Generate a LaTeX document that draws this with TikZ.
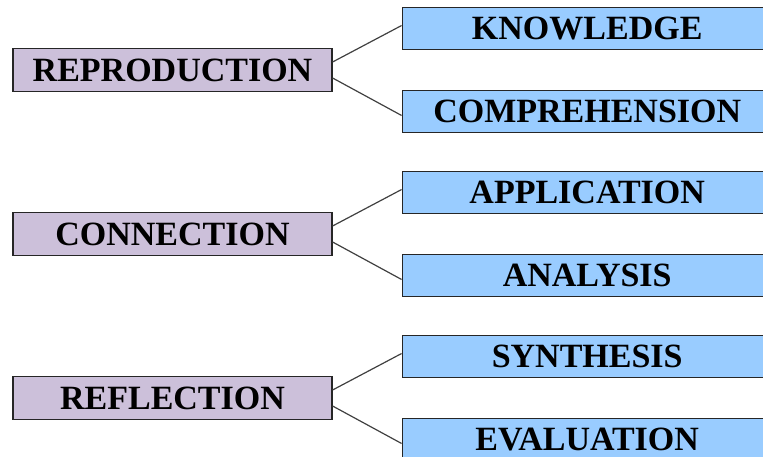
\documentclass[tikz,border=0pt]{standalone}
\usepackage{fontspec}
\setmainfont{Liberation Serif}
\usepackage{xcolor}
\usetikzlibrary{positioning}

\definecolor{lavbox}{RGB}{204,192,218}
\definecolor{bluebox}{RGB}{153,204,255}

\begin{document}
\begin{tikzpicture}[
	  x=1pt, y=-1pt,
	  %style for the connecting lines
	  lnk/.style={draw=black!75, line width=1.2pt},
      % style for the left boxes
      lb/.style={rectangle, fill=lavbox, draw=black!85, line width=1.2pt,
                 minimum width=319pt, minimum height=43pt, inner sep=0pt,
                 font=\fontsize{34}{40}\selectfont\bfseries},
      % style for the right boxes
      rb/.style={rectangle, fill=bluebox, draw=black!85, line width=1.2pt,
                 minimum width=370pt, minimum height=42pt, inner sep=0pt,
                 font=\fontsize{34}{40}\selectfont\bfseries},
      node distance=164pt]

      \useasboundingbox (0,0) rectangle (763,457);
      \clip (0,0) rectangle (763,457);

      %nodes
      \node[lb] (repro) at (172.5,70) {REPRODUCTION};
      \node[lb,below of=repro](conn){CONNECTION};
      \node[lb,below of=conn](refl){REFLECTION};

      \node[rb,right=69pt of repro,yshift=41.5pt](know){KNOWLEDGE};
      \node[rb,right=69pt of repro,yshift=-41.5pt](comp){COMPREHENSION};
      \node[rb,right=69pt of conn,yshift=41.5pt](appl){APPLICATION};
      \node[rb,right=69pt of conn,yshift=-41.5pt](anal){ANALYSIS};
      \node[rb,right=69pt of refl,yshift=41.5pt](synth){SYNTHESIS};
      \node[rb,right=69pt of refl,yshift=-41.5pt](eval){EVALUATION};

      %edges
      \draw[lnk]([yshift=8pt]repro.east) -- ([yshift=3pt]know.west);
      \draw[lnk]([yshift=-8pt]repro.east) -- ([yshift=-4pt]comp.west);
      \draw[lnk]([yshift=8pt]conn.east) -- ([yshift=3pt]appl.west);
      \draw[lnk]([yshift=-8pt]conn.east) -- ([yshift=-4pt]anal.west);
      \draw[lnk]([yshift=8pt]refl.east) -- ([yshift=3pt]synth.west);
      \draw[lnk]([yshift=-8pt]refl.east) -- ([yshift=-4pt]eval.west);
\end{tikzpicture}
\end{document}
